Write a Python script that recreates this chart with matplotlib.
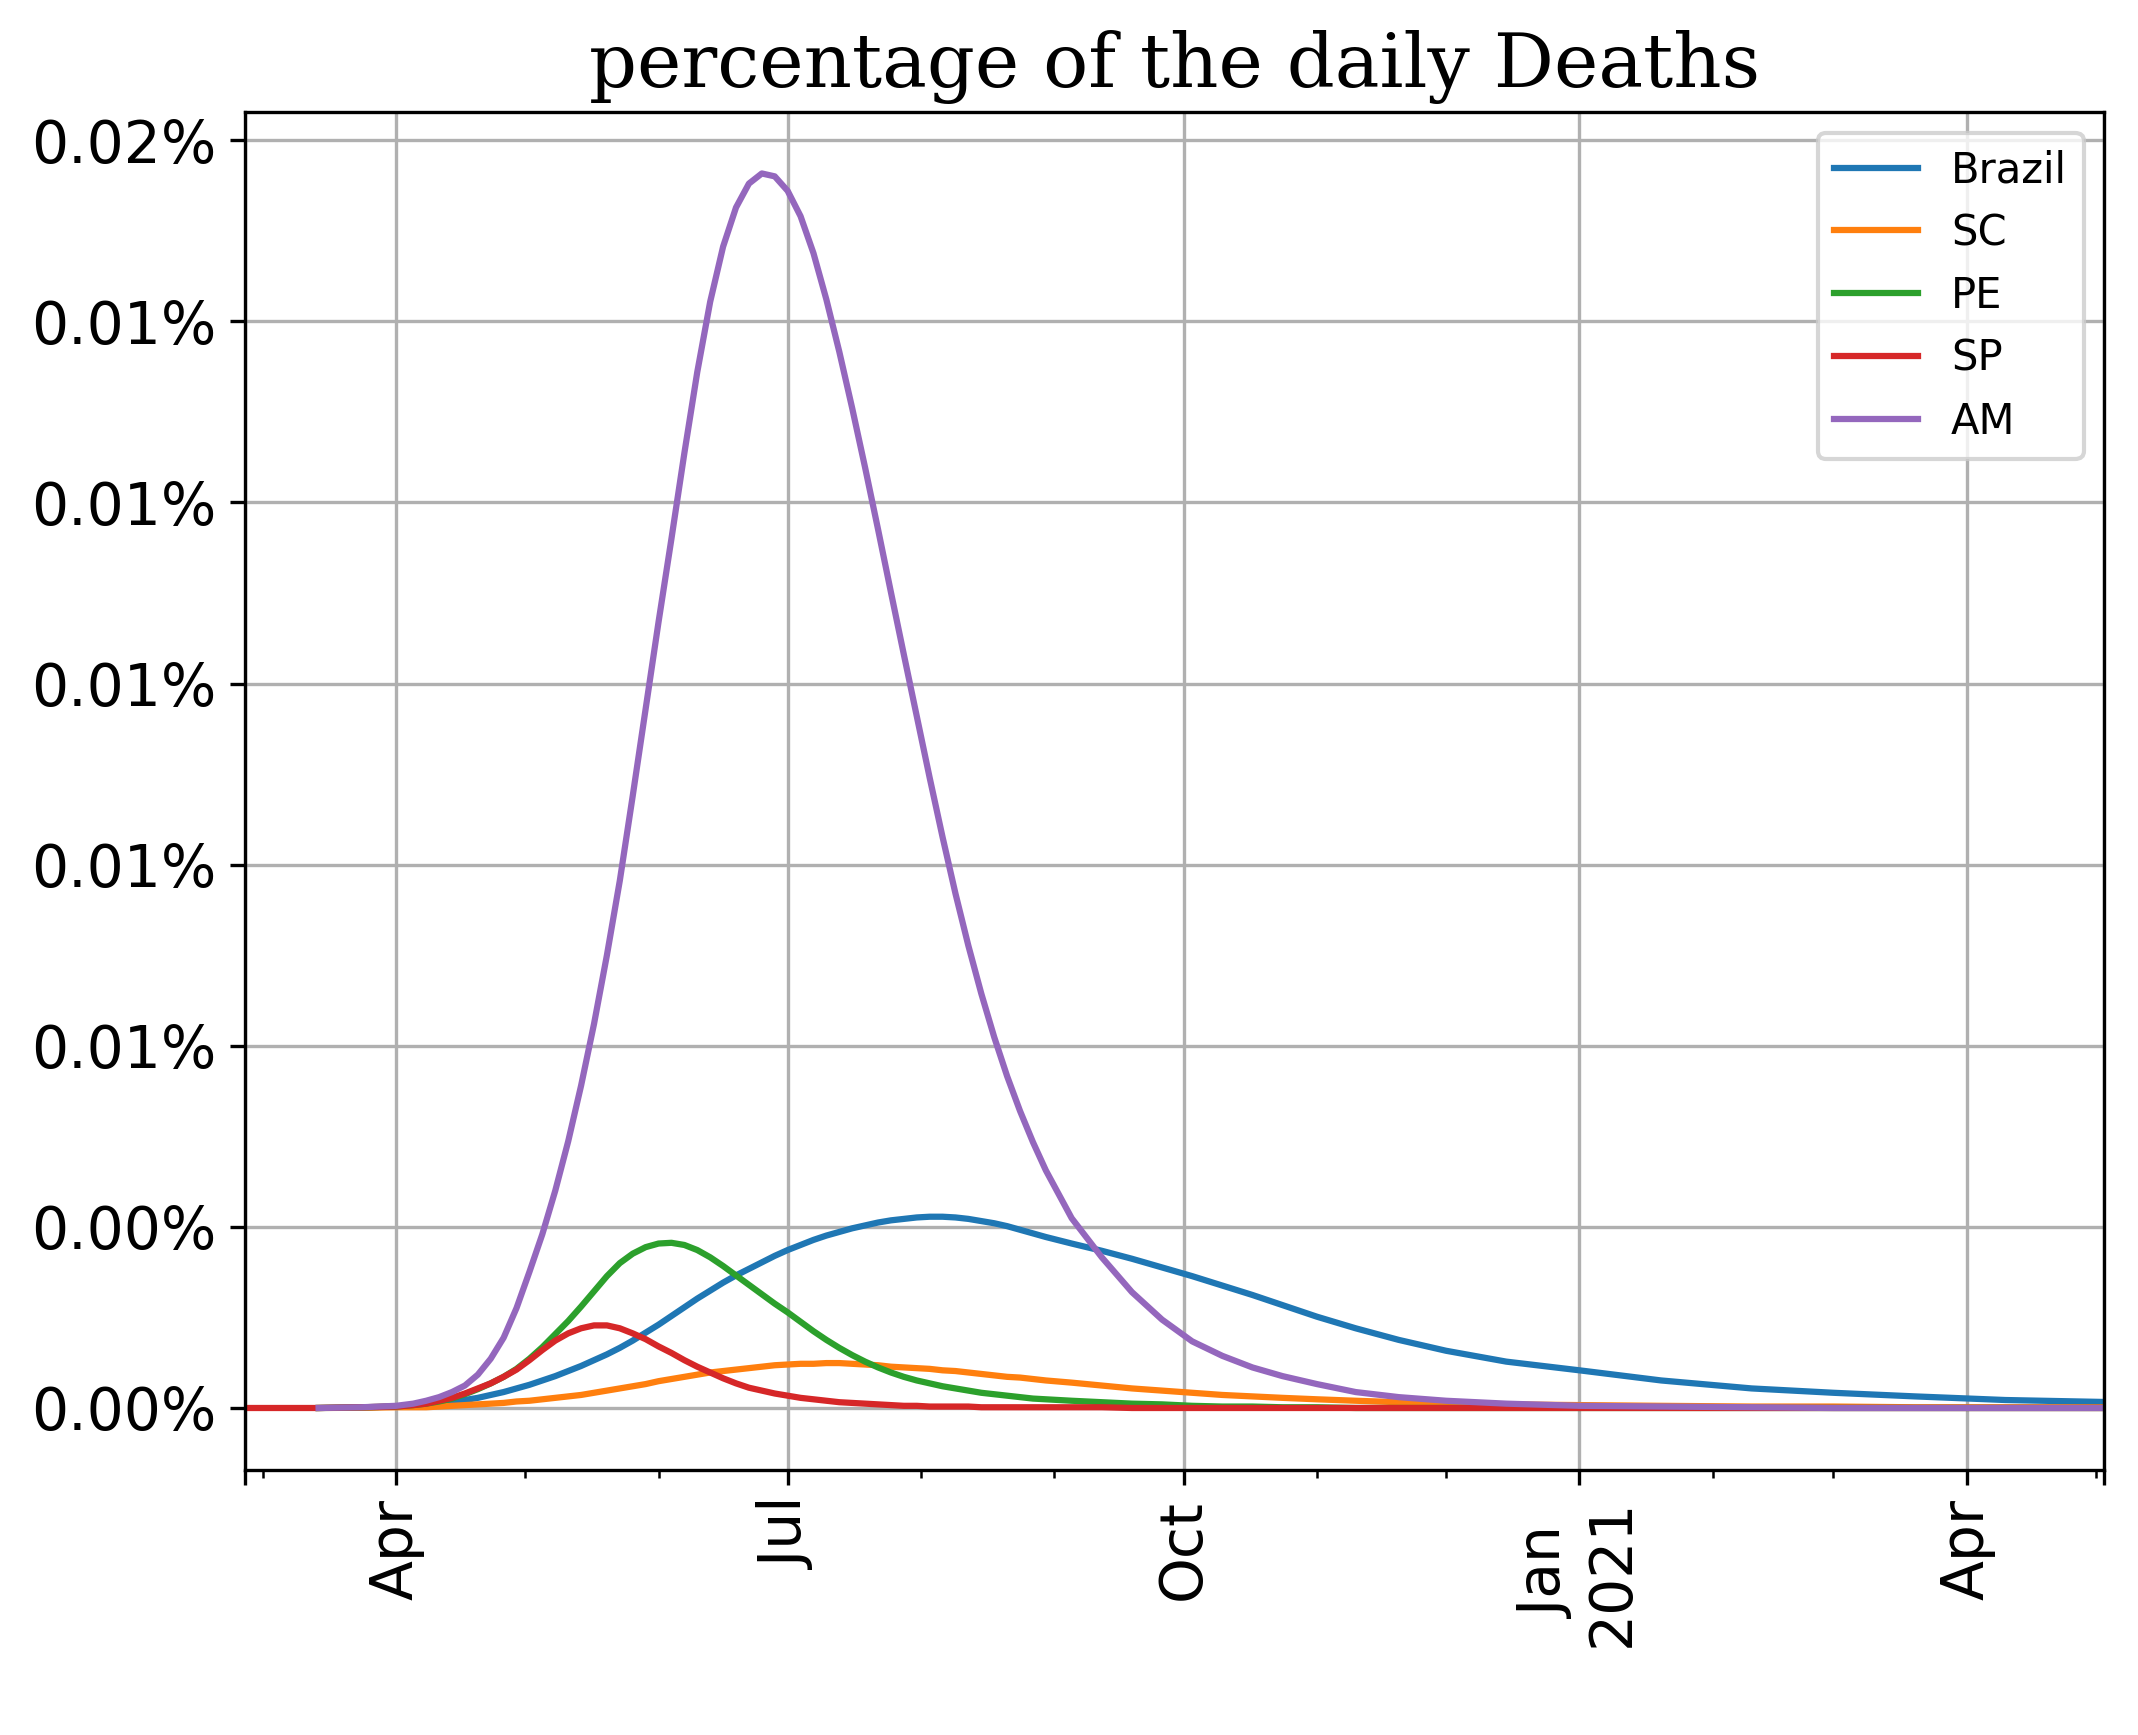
import numpy as np
import pandas as pd
import matplotlib
matplotlib.use("Agg")
import matplotlib.pyplot as plt
import matplotlib.dates as mdates
import matplotlib.ticker as mtick

# dias de muestra (eje x)
fechas = ["2020-02-26", "2020-03-14", "2020-03-24", "2020-04-01", "2020-04-05",
          "2020-04-08", "2020-04-11", "2020-04-14", "2020-04-17", "2020-04-20",
          "2020-04-23", "2020-04-26", "2020-04-29", "2020-05-02", "2020-05-05",
          "2020-05-08", "2020-05-11", "2020-05-14", "2020-05-17", "2020-05-20",
          "2020-05-23", "2020-05-26", "2020-05-29", "2020-06-01", "2020-06-04",
          "2020-06-07", "2020-06-10", "2020-06-13", "2020-06-16", "2020-06-19",
          "2020-06-22", "2020-06-25", "2020-06-28", "2020-07-01", "2020-07-04",
          "2020-07-07", "2020-07-10", "2020-07-13", "2020-07-16", "2020-07-19",
          "2020-07-22", "2020-07-25", "2020-07-28", "2020-07-31", "2020-08-03",
          "2020-08-06", "2020-08-09", "2020-08-12", "2020-08-15", "2020-08-18",
          "2020-08-21", "2020-08-24", "2020-08-27", "2020-08-30",
          "2020-09-05", "2020-09-12", "2020-09-19", "2020-09-26", "2020-10-03",
          "2020-10-10", "2020-10-17", "2020-10-24", "2020-11-01", "2020-11-10",
          "2020-11-20", "2020-12-01", "2020-12-15", "2021-01-01", "2021-01-20",
          "2021-02-10", "2021-03-01", "2021-03-20", "2021-04-10", "2021-05-03"]

# porcentaje diario de muertes (en %)
brazil = [np.nan, 0.0, 0.000005, 0.00002, 0.00003,
          0.00004, 0.00006, 0.00008, 0.00011, 0.00014,
          0.00018, 0.00022, 0.00027, 0.00032, 0.00038,
          0.00044, 0.00051, 0.00058, 0.00066, 0.00074,
          0.00083, 0.00093, 0.00104, 0.00115, 0.00127,
          0.00139, 0.00151, 0.00162, 0.00173, 0.00183,
          0.00192, 0.00201, 0.00210, 0.00218, 0.00225,
          0.00232, 0.00238, 0.00243, 0.00248, 0.00252,
          0.00256, 0.00259, 0.00261, 0.00263, 0.00264,
          0.00264, 0.00263, 0.00261, 0.00258, 0.00255,
          0.00251, 0.00246, 0.00241, 0.00236,
          0.00227, 0.00217, 0.00206, 0.00194, 0.00182,
          0.00169, 0.00156, 0.00142, 0.00126, 0.00110,
          0.00094, 0.00079, 0.00064, 0.00052, 0.00038,
          0.00027, 0.00021, 0.00016, 0.00011, 0.000083]
sc = [np.nan, 0.0, 0.000003, 0.00001, 0.00001,
      0.00001, 0.00002, 0.00003, 0.00004, 0.00005,
      0.00006, 0.00007, 0.00009, 0.00010, 0.00012,
      0.00014, 0.00016, 0.00018, 0.00021, 0.00024,
      0.00027, 0.00030, 0.00033, 0.00037, 0.00040,
      0.00043, 0.00046, 0.00049, 0.00051, 0.00053,
      0.00055, 0.00057, 0.00059, 0.00060, 0.00061,
      0.00061, 0.00062, 0.00062, 0.00061, 0.00060,
      0.00059, 0.00057, 0.00056, 0.00055, 0.00054,
      0.00052, 0.00051, 0.00049, 0.00047, 0.00045,
      0.00043, 0.00042, 0.00040, 0.00038,
      0.00035, 0.00031, 0.00027, 0.00024, 0.00021,
      0.00018, 0.00016, 0.00014, 0.00012, 0.00010,
      0.00008, 0.00007, 0.00005, 0.00004, 0.00003,
      0.00002, 0.00002, 0.00001, 0.00001, 0.00001]
pe = [np.nan, 0.0, 0.00001, 0.00002, 0.00004,
      0.00006, 0.00009, 0.00013, 0.00019, 0.00026,
      0.00034, 0.00043, 0.00054, 0.00068, 0.00084,
      0.00102, 0.00120, 0.00140, 0.00161, 0.00182,
      0.00200, 0.00213, 0.00222, 0.00227, 0.00228,
      0.00225, 0.00218, 0.00208, 0.00196, 0.00183,
      0.00170, 0.00157, 0.00144, 0.00132, 0.00119,
      0.00106, 0.00094, 0.00083, 0.00073, 0.00064,
      0.00056, 0.00049, 0.00043, 0.00038, 0.00034,
      0.00030, 0.00027, 0.00024, 0.00021, 0.00019,
      0.00017, 0.00015, 0.00013, 0.00012,
      0.00010, 0.00008, 0.00006, 0.00005, 0.00003,
      0.00002, 0.00002, 0.00001, 0.00001, 0.0,
      0.0, 0.0, 0.0, 0.0, 0.0,
      0.0, 0.0, 0.0, 0.0, 0.0]
sp = [0.0, 0.0, 0.00001, 0.00002, 0.00004,
      0.00006, 0.00010, 0.00014, 0.00020, 0.00027,
      0.00034, 0.00043, 0.00053, 0.00066, 0.00080,
      0.00093, 0.00103, 0.00110, 0.00114, 0.00114,
      0.00110, 0.00103, 0.00095, 0.00085, 0.00076,
      0.00066, 0.00057, 0.00049, 0.00041, 0.00034,
      0.00028, 0.00024, 0.00020, 0.00017, 0.00014,
      0.00012, 0.00010, 0.00008, 0.00007, 0.00006,
      0.00005, 0.00004, 0.00003, 0.00003, 0.00002,
      0.00002, 0.00002, 0.00002, 0.00001, 0.00001,
      0.00001, 0.00001, 0.00001, 0.00001,
      0.00001, 0.00001, 0.0, 0.0, 0.0,
      0.0, 0.0, 0.0, 0.0, 0.0,
      0.0, 0.0, 0.0, 0.0, 0.0,
      0.0, 0.0, 0.0, 0.0, 0.0]
am = [np.nan, 0.0, 0.00001, 0.00003, 0.00006,
      0.00010, 0.00015, 0.00022, 0.00031, 0.00046,
      0.00068, 0.00097, 0.00138, 0.00188, 0.00240,
      0.00300, 0.00368, 0.00445, 0.00530, 0.00625,
      0.00728, 0.00845, 0.00965, 0.01085, 0.01200,
      0.01318, 0.01430, 0.01527, 0.01603, 0.01657,
      0.01690, 0.01704, 0.01700, 0.01680, 0.01645,
      0.01594, 0.01530, 0.01458, 0.01380, 0.01298,
      0.01213, 0.01126, 0.01040, 0.00955, 0.00870,
      0.00788, 0.00710, 0.00638, 0.00572, 0.00512,
      0.00458, 0.00410, 0.00367, 0.00328,
      0.00262, 0.00208, 0.00160, 0.00122, 0.00092,
      0.00072, 0.00056, 0.00044, 0.00033, 0.00022,
      0.00015, 0.00010, 0.00006, 0.00003, 0.00002,
      0.00001, 0.0, 0.0, 0.0, 0.0]

nombres = ["Brazil", "SC", "PE", "SP", "AM"]
series = [brazil, sc, pe, sp, am]

# ticks del eje de fechas
fechas_maj = ["2020-02-26", "2020-04-01", "2020-07-01", "2020-10-01",
              "2021-01-01", "2021-04-01", "2021-05-03"]
etiquetas_maj = ["", "Apr", "Jul", "Oct", "Jan\n2021", "Apr", ""]

# ticks del eje y (en %)
yticks = [0.0, 0.0025, 0.005, 0.0075, 0.01, 0.0125, 0.015, 0.0175]
etiquetas_y = ["0.00%", "0.00%", "0.01%", "0.01%", "0.01%", "0.01%", "0.01%", "0.02%"]

x = pd.to_datetime(fechas)

fig = plt.figure(figsize=(2138 / 300, 1735 / 300), dpi=300)
ax = fig.add_axes([0.1148, 0.1529, 0.8695, 0.7827])

for nom, y in zip(nombres, series):
    ax.plot(x, y, linewidth=1.5, label=nom)

ax.set_xlim(x[0], x[-1])
ax.xaxis.set_major_locator(mtick.FixedLocator(mdates.date2num(pd.to_datetime(fechas_maj))))
ax.xaxis.set_major_formatter(mtick.FixedFormatter(etiquetas_maj))
ax.xaxis.set_minor_locator(mdates.MonthLocator())
ax.xaxis.set_minor_formatter(mtick.NullFormatter())
plt.setp(ax.get_xticklabels(), rotation=90)

ax.yaxis.set_major_locator(mtick.FixedLocator(yticks))
ax.yaxis.set_major_formatter(mtick.FixedFormatter(etiquetas_y))
ax.tick_params(axis="both", which="major", labelsize=14)

ax.grid(True)
ax.legend(loc="upper right", fontsize=10)
ax.set_title("percentage of the daily Deaths", fontsize=18, family="serif")

fig.savefig("out.png", dpi=300)
